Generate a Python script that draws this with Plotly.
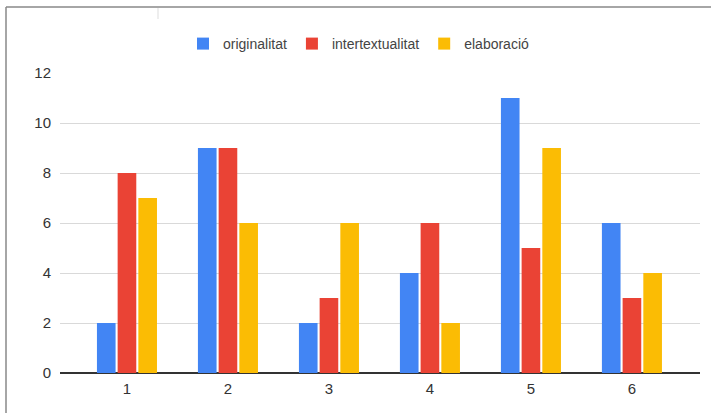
import plotly.graph_objects as go

categories = [1, 2, 3, 4, 5, 6]
tick_labels = ["1", "2", "3", "4", "5", "6"]
originalitat = [2, 9, 2, 4, 11, 6]
intertextualitat = [8, 9, 3, 6, 5, 3]
elaboracio = [7, 6, 6, 2, 9, 4]

series = [
    ("originalitat", originalitat, "#4285F4"),
    ("intertextualitat", intertextualitat, "#EA4335"),
    ("elaboració", elaboracio, "#FBBC04"),
]

fig = go.Figure()
for name, vals, col in series:
    fig.add_trace(go.Bar(x=categories, y=vals, name=name,
                         marker=dict(color=col, line=dict(width=0))))

W, H = 711, 413
L, R, T, B = 60, 11, 73, 40
pw, ph = W - L - R, H - T - B

def px(x):
    return (x - L) / pw

def py(y):
    return (H - B - y) / ph

fig.update_layout(
    width=W, height=H,
    margin=dict(l=L, r=R, t=T, b=B, pad=0),
    paper_bgcolor="white", plot_bgcolor="white",
    barmode="group", bargap=0.385, bargroupgap=0.1,
    font=dict(family="Liberation Sans, Arial, sans-serif", size=14, color="#444"),
    showlegend=True,
    legend=dict(orientation="h", x=px(359), xanchor="center", y=py(44), yanchor="middle",
                font=dict(size=14, color="#444"), itemwidth=30, traceorder="normal"),
    xaxis=dict(range=[0.337, 6.674], tickvals=categories, ticktext=tick_labels,
               showgrid=False, zeroline=False, showline=False, ticks="",
               ticklabelstandoff=5,
               tickfont=dict(size=15, color="#333")),
    yaxis=dict(range=[0, 12], tickvals=[0, 2, 4, 6, 8, 10, 12],
               showgrid=True, gridcolor="#d9d9d9", gridwidth=1,
               zeroline=True, zerolinecolor="#333", zerolinewidth=1.5,
               showline=False, ticks="", ticklabelstandoff=8,
               tickfont=dict(size=15, color="#333")),
    shapes=[
        dict(type="line", xref="paper", yref="paper", x0=px(6), x1=px(711), y0=py(7), y1=py(7),
             line=dict(color="#888", width=1.5)),
        dict(type="line", xref="paper", yref="paper", x0=px(6), x1=px(6), y0=py(7), y1=py(413),
             line=dict(color="#888", width=1.5)),
        dict(type="line", xref="paper", yref="paper", x0=px(158), x1=px(158), y0=py(8), y1=py(19),
             line=dict(color="#ddd", width=1)),
    ],
)

fig.write_html("out.html")
